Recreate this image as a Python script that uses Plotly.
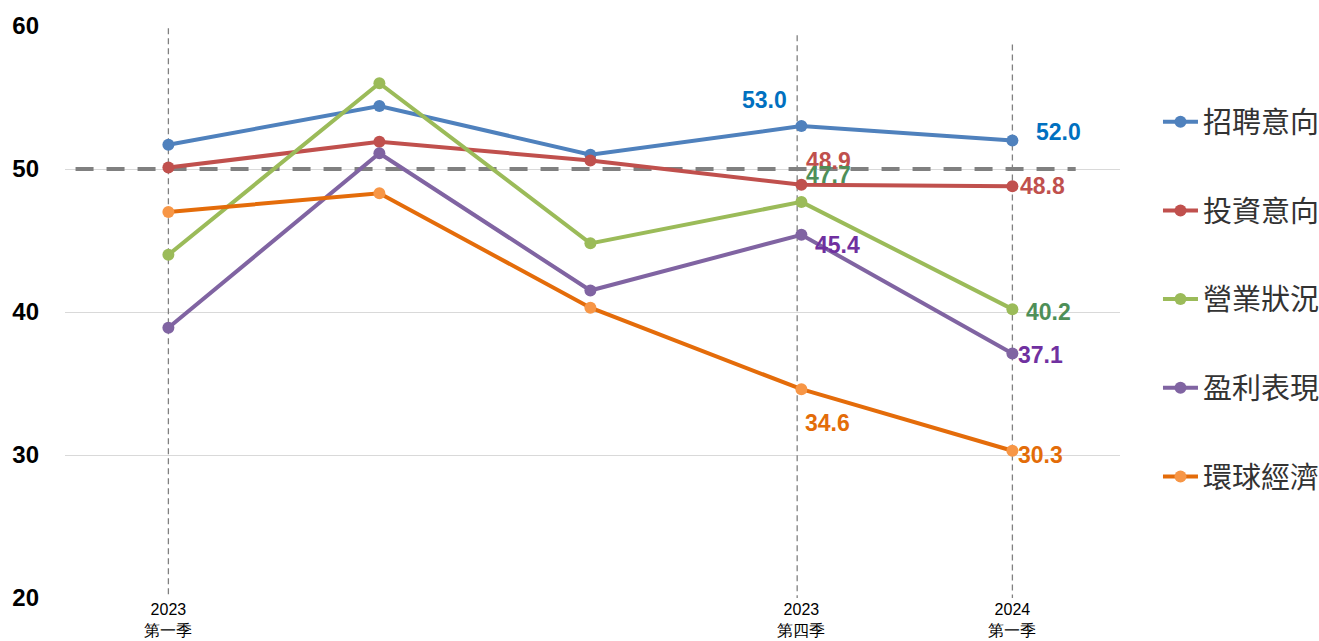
import plotly.graph_objects as go

quarters = ["2023Q1", "2023Q2", "2023Q3", "2023Q4", "2024Q1"]
tick_labels = ["2023<br>第一季", "", "", "2023<br>第四季", "2024<br>第一季"]

hiring = [51.7, 54.4, 51.0, 53.0, 52.0]
investment = [50.1, 51.9, 50.6, 48.9, 48.8]
business = [44.0, 56.0, 44.8, 47.7, 40.2]
profit = [38.9, 51.1, 41.5, 45.4, 37.1]
economy = [47.0, 48.3, 40.3, 34.6, 30.3]

names = ["招聘意向", "投資意向", "營業狀況", "盈利表現", "環球經濟"]
series = [hiring, investment, business, profit, economy]
line_colors = ["#4F81BD", "#C0504D", "#9BBB59", "#8064A2", "#E46C0A"]
marker_colors = ["#4F81BD", "#C0504D", "#9BBB59", "#8064A2", "#F79646"]
label_colors = ["#0070C0", "#C0504D", "#4E8F58", "#7030A0", "#E36C09"]
# label offsets (px) for Q4 and 2024Q1 points
offsets_q4 = [(-37, 26), (27, 24), (27, 27), (36, -10), (26, -34)]
offsets_last = [(46, 8), (30, 0), (36, -3), (28, -2), (28, -4)]

x = list(range(len(quarters)))
fig = go.Figure()
for i, (nm, ys) in enumerate(zip(names, series)):
    fig.add_trace(go.Scatter(
        x=x, y=ys, mode="lines+markers", name=nm, legendgroup=nm,
        line=dict(color=line_colors[i], width=4),
        marker=dict(color=marker_colors[i], size=12),
    ))

annotations = []
for i, ys in enumerate(series):
    for idx, off in ((3, offsets_q4[i]), (4, offsets_last[i])):
        annotations.append(dict(
            x=x[idx], y=ys[idx], xref="x", yref="y", text=f"{ys[idx]:.1f}",
            showarrow=False, xshift=off[0], yshift=off[1],
            font=dict(family="Arial, Liberation Sans", size=23, color=label_colors[i],
                      weight="bold"),
        ))

shapes = [
    dict(type="line", xref="x", yref="y", x0=-0.44, x1=4.3, y0=50, y1=50,
         line=dict(color="#808080", width=4, dash="18px,13px"), layer="between"),
    dict(type="line", xref="x", yref="y", x0=0, x1=0, y0=59.85, y1=20,
         line=dict(color="#808080", width=1.3, dash="6px,4px"), layer="between"),
    dict(type="line", xref="x", yref="y", x0=2.98, x1=2.98, y0=59.35, y1=19.2,
         line=dict(color="#808080", width=1.3, dash="6px,4px"), layer="between"),
    dict(type="line", xref="x", yref="y", x0=4, x1=4, y0=58.7, y1=19.2,
         line=dict(color="#808080", width=1.3, dash="6px,4px"), layer="between"),
]

fig.update_layout(
    width=1319, height=641,
    margin=dict(l=65, r=199, t=26, b=43, autoexpand=False),
    plot_bgcolor="white", paper_bgcolor="white",
    showlegend=True,
    legend=dict(x=1.036, y=0.877, xanchor="left", yanchor="top",
                font=dict(family="Noto Sans CJK TC", size=29, color="#333333"),
                tracegroupgap=48, itemwidth=35),
    annotations=annotations, shapes=shapes,
    xaxis=dict(range=[-0.49, 4.51], tickmode="array", tickvals=x, ticktext=tick_labels,
               showgrid=False, zeroline=False, showline=False, ticks="", automargin=False,
               tickfont=dict(family="Arial, Liberation Sans", size=16, color="#000")),
    yaxis=dict(range=[20, 60], tickvals=[20, 30, 40, 50, 60], showgrid=True,
               gridcolor="#D9D9D9", gridwidth=1.3, zeroline=False, showline=False,
               automargin=False,
               tickfont=dict(family="Arial, Liberation Sans", size=24, color="#000",
                             weight="bold"),
               ticklabelstandoff=25),
)

fig.write_html("out.html", config={"displayModeBar": False},
               post_script="document.body.style.margin='0';document.body.style.overflow='hidden';")
